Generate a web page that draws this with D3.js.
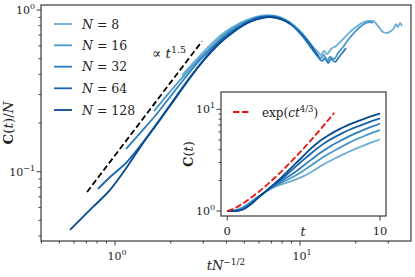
<!DOCTYPE html>
<html>
<head>
<meta charset="utf-8">
<script src="https://cdn.jsdelivr.net/npm/d3@7"></script>
<style>
  body { margin: 0; background: #fff; }
  svg text { font-family: "DejaVu Serif", "Liberation Serif", serif; fill: #222; }
</style>
</head>
<body>
<script>
// size of the figure
var w = 415;
var h = 277;

// main panel data: x = t N^-1/2, y = C(t)/N
var sizes = [8, 16, 32, 64, 128];
var colors = ["#6aaed6", "#4a98c9", "#2e7ebc", "#1764ab", "#084a91"];

var x8  = [2.302,2.741,3.263,3.931,4.739,5.712,6.550,7.510,8.613,9.754,10.91,11.90,12.51,12.99,13.48,13.99,14.71,15.65,16.66,17.73,18.87,20.08,21.63,23.32,24.81,26.40,28.10,29.53,31.04,32.22,33.03,33.86,34.72,35.59];
var y8  = [0.396,0.491,0.607,0.731,0.831,0.905,0.931,0.918,0.855,0.763,0.662,0.582,0.550,0.527,0.558,0.534,0.574,0.599,0.643,0.691,0.742,0.785,0.831,0.855,0.855,0.796,0.731,0.721,0.742,0.774,0.819,0.785,0.831,0.796];
var x16 = [1.625,1.934,2.302,2.741,3.263,3.931,4.739,5.712,6.632,7.604,8.831,10.0,11.33,12.36,12.99,13.48,13.99,14.53,15.27,16.05,17.08,18.17,19.58,21.10,22.74,23.90,24.81];
var y16 = [0.237,0.302,0.380,0.477,0.582,0.711,0.819,0.892,0.918,0.905,0.831,0.731,0.607,0.534,0.505,0.527,0.484,0.512,0.498,0.542,0.590,0.652,0.721,0.785,0.831,0.843,0.831];
var x32 = [1.147,1.365,1.645,1.983,2.389,2.881,3.472,4.183,5.043,5.929,6.714,7.796,9.053,10.38,11.61,12.51,13.15,13.65,14.17,14.71,15.46,16.25,17.08,17.73];
var y32 = [0.138,0.173,0.221,0.290,0.380,0.491,0.607,0.731,0.831,0.892,0.918,0.892,0.808,0.681,0.574,0.512,0.484,0.505,0.470,0.498,0.477,0.512,0.550,0.582];
var x64 = [0.809,0.940,1.161,1.365,1.751,2.110,2.544,3.065,3.694,4.452,5.366,6.232,7.057,8.298,10.0,11.33,12.51];
var y64 = [0.0782,0.0927,0.115,0.144,0.212,0.286,0.385,0.505,0.634,0.752,0.855,0.905,0.905,0.855,0.731,0.616,0.519];
var x128 = [0.571,0.760,0.940,1.161,1.417,1.751,2.110,2.544,3.065,3.694,4.452,5.366,6.232,6.884,7.796,8.831];
var y128 = [0.0436,0.0605,0.0771,0.107,0.150,0.209,0.282,0.380,0.498,0.625,0.742,0.843,0.892,0.905,0.880,0.831];

// guide line  ~ t^1.5
var guideX = [0.706, 2.95];
var guideY = [0.0749, 0.640];

// inset data: C(t) against t
var tIn = [0,0.5,1,1.5,2,2.5,3,3.5,4,4.5,5,5.5,6,6.5,7,7.5,8,8.5,9,9.5,10];
var c8   = [1,1.02,1.09,1.22,1.38,1.55,1.70,1.82,1.92,2.05,2.20,2.42,2.70,2.98,3.27,3.55,3.85,4.15,4.45,4.75,5.05];
var c16  = [1,1.01,1.07,1.20,1.37,1.55,1.72,1.88,2.05,2.25,2.50,2.82,3.18,3.55,3.92,4.30,4.70,5.10,5.50,5.90,6.25];
var c32  = [1,1.005,1.05,1.18,1.36,1.55,1.75,1.95,2.18,2.45,2.80,3.20,3.65,4.10,4.55,5.00,5.45,5.90,6.35,6.80,7.25];
var c64  = [1,1.0,1.04,1.16,1.35,1.55,1.78,2.03,2.35,2.75,3.20,3.70,4.25,4.80,5.30,5.80,6.30,6.75,7.20,7.70,8.15];
var c128 = [1,1.0,1.03,1.15,1.34,1.55,1.80,2.10,2.50,2.95,3.50,4.15,4.80,5.40,6.00,6.55,7.10,7.60,8.10,8.60,9.10];

// exp(c t^{4/3}) reference
var tRed = [0,0.5,1,1.5,2,2.5,3,3.5,4,4.5,5,5.5,6,6.5,7];
var cRed = [1,1.068,1.181,1.330,1.519,1.756,2.051,2.416,2.869,3.43,4.13,5.01,6.11,7.49,9.23];

var mainX = [x8, x16, x32, x64, x128];
var mainY = [y8, y16, y32, y64, y128];
var insetC = [c8, c16, c32, c64, c128];

var axisColor = "#3a3a3a";

var svg = d3.select("body")
            .append("svg")
            .attr("width", w)
            .attr("height", h)
            .style("background", "white");

// main scales
var mx = d3.scaleLog().domain([0.398, 39.8]).range([41, 411]);
var my = d3.scaleLog().domain([0.03727, 1.074]).range([241, 5]);

var line = d3.line()
    .x(d => mx(d[0]))
    .y(d => my(d[1]))
    .curve(d3.curveMonotoneX);

function pow10(sel, e) {
  sel.text("10");
  sel.append("tspan").attr("dy", -5).attr("font-size", 8).text(e);
}

// ticks for log axes
function logTicks(g, scale, orient, majors, minors, labelExps) {
  var isX = orient == "bottom";
  minors.forEach(function(v) {
    var p = scale(v);
    if (isX) g.append("line").attr("x1", p).attr("x2", p).attr("y1", 0).attr("y2", 2.5);
    else g.append("line").attr("y1", p).attr("y2", p).attr("x1", 0).attr("x2", -2.5);
  });
  majors.forEach(function(v, i) {
    var p = scale(v);
    if (isX) {
      g.append("line").attr("x1", p).attr("x2", p).attr("y1", 0).attr("y2", 4.5);
      g.append("text").attr("x", p + 2).attr("y", 19).attr("text-anchor", "middle")
        .attr("font-size", 11).call(pow10, labelExps[i]);
    } else {
      g.append("line").attr("y1", p).attr("y2", p).attr("x1", 0).attr("x2", -4.5);
      g.append("text").attr("x", -6).attr("y", p + 4).attr("text-anchor", "end")
        .attr("font-size", 11).call(pow10, labelExps[i]);
    }
  });
  g.selectAll("line").attr("stroke", axisColor).attr("stroke-width", 1);
}

// main curves
sizes.forEach(function(n, i) {
  var pts = mainX[i].map((v, j) => [v, mainY[i][j]]);
  svg.append("path")
     .attr("d", line(pts))
     .attr("fill", "none")
     .attr("stroke", colors[i])
     .attr("stroke-width", 1.8);
});

// dashed guide
svg.append("path")
   .attr("d", d3.line().x(d => mx(d[0])).y(d => my(d[1]))(guideX.map((v, j) => [v, guideY[j]])))
   .attr("fill", "none")
   .attr("stroke", "black")
   .attr("stroke-width", 1.8)
   .attr("stroke-dasharray", "6,3");

var guideLabel = svg.append("text").attr("x", 152).attr("y", 58).attr("font-size", 13.5);
guideLabel.append("tspan").text("\u221d ");
guideLabel.append("tspan").attr("font-style", "italic").text("t");
guideLabel.append("tspan").attr("dy", -5).attr("font-size", 9.5).text("1.5");

// main frame and axes
svg.append("rect")
   .attr("x", 41).attr("y", 5).attr("width", 370).attr("height", 236)
   .attr("fill", "none").attr("stroke", axisColor).attr("stroke-width", 1.2);

var gx = svg.append("g").attr("transform", "translate(0,241)");
logTicks(gx, mx, "bottom", [1, 10],
  [0.4,0.5,0.6,0.7,0.8,0.9,2,3,4,5,6,7,8,9,20,30], ["0", "1"]);

var gy = svg.append("g").attr("transform", "translate(41,0)");
logTicks(gy, my, "left", [0.1, 1],
  [0.04,0.05,0.06,0.07,0.08,0.09,0.2,0.3,0.4,0.5,0.6,0.7,0.8,0.9], ["\u22121", "0"]);

// axis labels
var xl = svg.append("text").attr("x", 226).attr("y", 270).attr("text-anchor", "middle").attr("font-size", 13);
xl.append("tspan").attr("font-style", "italic").text("tN");
xl.append("tspan").attr("dy", -5).attr("font-size", 9).text("\u22121/2");

var yl = svg.append("text").attr("transform", "translate(13,123) rotate(-90)")
            .attr("text-anchor", "middle").attr("font-size", 13.5);
yl.append("tspan").attr("font-weight", "bold").text("C");
yl.append("tspan").text("(");
yl.append("tspan").attr("font-style", "italic").text("t");
yl.append("tspan").text(")/");
yl.append("tspan").attr("font-style", "italic").text("N");

// legend
var legendY = [24, 45.3, 66.7, 88.3, 110];
sizes.forEach(function(n, i) {
  svg.append("line")
     .attr("x1", 54).attr("x2", 72)
     .attr("y1", legendY[i]).attr("y2", legendY[i])
     .attr("stroke", colors[i]).attr("stroke-width", 1.8);
  var t = svg.append("text").attr("x", 82).attr("y", legendY[i] + 4.5).attr("font-size", 12.5);
  t.append("tspan").attr("font-style", "italic").text("N");
  t.append("tspan").text(" = " + n);
});

// inset
var ix = d3.scaleLinear().domain([-0.41, 10.39]).range([221, 386]);
var iy = d3.scaleLog().domain([0.893, 14.8]).range([216, 92]);

svg.append("rect")
   .attr("x", 221).attr("y", 92).attr("width", 165).attr("height", 124)
   .attr("fill", "white");

var iline = d3.line()
    .x(d => ix(d[0]))
    .y(d => iy(d[1]))
    .curve(d3.curveMonotoneX);

sizes.forEach(function(n, i) {
  svg.append("path")
     .attr("d", iline(tIn.map((v, j) => [v, insetC[i][j]])))
     .attr("fill", "none")
     .attr("stroke", colors[i])
     .attr("stroke-width", 1.8);
});

svg.append("path")
   .attr("d", iline(tRed.map((v, j) => [v, cRed[j]])))
   .attr("fill", "none")
   .attr("stroke", "#ee1111")
   .attr("stroke-width", 1.8)
   .attr("stroke-dasharray", "6.5,2.5");

svg.append("rect")
   .attr("x", 221).attr("y", 92).attr("width", 165).attr("height", 124)
   .attr("fill", "none").attr("stroke", axisColor).attr("stroke-width", 1.2);

// inset x ticks
[0, 10].forEach(function(v) {
  svg.append("line").attr("x1", ix(v)).attr("x2", ix(v)).attr("y1", 216).attr("y2", 220.5)
     .attr("stroke", axisColor);
  svg.append("text").attr("x", ix(v)).attr("y", 235).attr("text-anchor", "middle")
     .attr("font-size", 11.5).text(v);
});
svg.append("text").attr("x", 303).attr("y", 236).attr("text-anchor", "middle")
   .attr("font-size", 12.5).attr("font-style", "italic").text("t");

var giy = svg.append("g").attr("transform", "translate(221,0)");
logTicks(giy, iy, "left", [1, 10], [2,3,4,5,6,7,8,9], ["0", "1"]);

var iyl = svg.append("text").attr("transform", "translate(193,154) rotate(-90)")
             .attr("text-anchor", "middle").attr("font-size", 13);
iyl.append("tspan").attr("font-weight", "bold").text("C");
iyl.append("tspan").text("(");
iyl.append("tspan").attr("font-style", "italic").text("t");
iyl.append("tspan").text(")");

// inset legend
svg.append("line").attr("x1", 233).attr("x2", 250).attr("y1", 112).attr("y2", 112)
   .attr("stroke", "#ee1111").attr("stroke-width", 1.8).attr("stroke-dasharray", "6.5,2.5");
var il = svg.append("text").attr("x", 262).attr("y", 117).attr("font-size", 12);
il.append("tspan").text("exp(");
il.append("tspan").attr("font-style", "italic").text("ct");
il.append("tspan").attr("dy", -5).attr("font-size", 8.5).text("4/3");
il.append("tspan").attr("dy", 5).text(")");
</script>
</body>
</html>
